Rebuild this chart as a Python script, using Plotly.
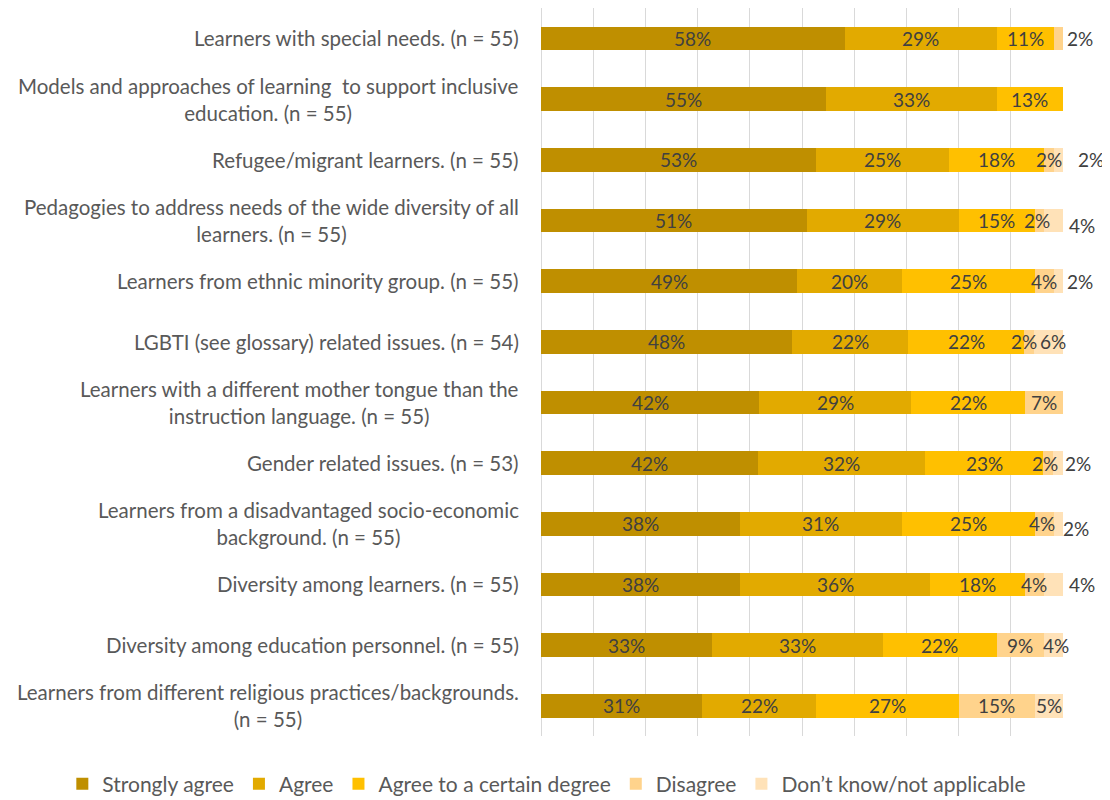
import plotly.graph_objects as go

categories = [
    "Learners with special needs. (n = 55)",
    "Models and approaches of learning  to support inclusive<br>education. (n = 55)",
    "Refugee/migrant learners. (n = 55)",
    "Pedagogies to address needs of the wide diversity of all<br>learners. (n = 55)",
    "Learners from ethnic minority group. (n = 55)",
    "LGBTI (see glossary) related issues. (n = 54)",
    "Learners with a different mother tongue than the<br>instruction language. (n = 55)",
    "Gender related issues. (n = 53)",
    "Learners from a disadvantaged socio-economic<br>background. (n = 55)",
    "Diversity among learners. (n = 55)",
    "Diversity among education personnel. (n = 55)",
    "Learners from different religious practices/backgrounds.<br>(n = 55)",
]

series_names = ["Strongly agree", "Agree", "Agree to a certain degree", "Disagree",
                "Don\u2019t know/not applicable"]

strongly_agree = [58.18, 54.55, 52.73, 50.91, 49.09, 48.15, 41.82, 41.51, 38.18, 38.18, 32.73, 30.91]
agree = [29.09, 32.73, 25.45, 29.09, 20.00, 22.22, 29.09, 32.08, 30.91, 36.36, 32.73, 21.82]
agree_certain = [10.91, 12.73, 18.18, 14.55, 25.45, 22.22, 21.82, 22.64, 25.45, 18.18, 21.82, 27.27]
disagree = [1.82, 0, 1.82, 1.82, 3.64, 1.85, 7.27, 1.89, 3.64, 3.64, 9.09, 14.55]
dont_know = [0, 0, 1.82, 3.64, 1.82, 5.56, 0, 1.89, 1.82, 3.64, 3.64, 5.45]

series_values = [strongly_agree, agree, agree_certain, disagree, dont_know]
colors = ["#BF8F00", "#E2AA00", "#FFC000", "#FFD38C", "#FFE2B8"]

# labels drawn to the right of the bar end: (row, series) -> (xshift px, yshift px)
outside_labels = {
    (0, 3): (2, 0),
    (2, 4): (13, 0),
    (3, 4): (4, -5),
    (4, 4): (2, 0),
    (7, 4): (0, 0),
    (8, 4): (-2, -5),
    (9, 4): (4, 0),
}
# small nudges of inside labels: (row, series) -> xshift px
inside_nudges = {
    (5, 3): -5,
    (5, 4): 5,
    (7, 3): -3,
    (8, 3): -2,
    (3, 3): -2,
    (9, 3): -1,
    (10, 4): 2,
}

FONT = "Lato, Liberation Sans, Arial"
label_font = dict(family=FONT, size=19, color="#404040")
axis_font = dict(family=FONT, size=20.5, color="#595959")
legend_font = dict(family=FONT, size=21, color="#595959")

fig = go.Figure()
for name, vals, col in zip(series_names, series_values, colors):
    fig.add_trace(go.Bar(
        y=categories, x=vals, name=name, orientation="h",
        marker=dict(color=col, line=dict(width=0)),
        hoverinfo="x+name",
    ))

annotations = []
for i, cat in enumerate(categories):
    cum = 0.0
    for s, vals in enumerate(series_values):
        v = vals[i]
        if v > 0:
            txt = f"{v:.0f}%"
            if (i, s) in outside_labels:
                dx, dy = outside_labels[(i, s)]
                annotations.append(dict(
                    x=1, y=cat, xref="paper", yref="y", text=txt, showarrow=False,
                    xanchor="left", yanchor="middle", xshift=dx, yshift=dy,
                    font=label_font,
                ))
            else:
                annotations.append(dict(
                    x=cum + v / 2, y=cat, xref="x", yref="y", text=txt, showarrow=False,
                    xanchor="center", yanchor="middle",
                    xshift=inside_nudges.get((i, s), 0),
                    font=label_font,
                ))
        cum += v

# category labels (centered multi-line, right-anchored)
for cat in categories:
    annotations.append(dict(
        x=0, y=cat, xref="paper", yref="y", text=cat, showarrow=False,
        xanchor="right", yanchor="middle", align="center", xshift=-20,
        font=axis_font,
    ))

fig.update_layout(
    width=1102, height=792,
    margin=dict(l=533, r=47, t=0, b=64, autoexpand=False),
    barmode="stack", bargap=0.61,
    plot_bgcolor="white", paper_bgcolor="white",
    annotations=annotations,
    legend=dict(
        orientation="h", xref="paper", yref="paper",
        x=-0.917, xanchor="left", y=-0.066, yanchor="middle",
        font=legend_font, traceorder="normal", itemwidth=30,
    ),
    xaxis=dict(
        range=[0, 100], dtick=10, showgrid=True, gridcolor="#D9D9D9", gridwidth=1,
        zeroline=True, zerolinecolor="#D9D9D9", zerolinewidth=1,
        showticklabels=False, ticks="", showline=False, fixedrange=True,
    ),
    yaxis=dict(
        categoryorder="array", categoryarray=categories,
        showticklabels=False, ticks="", showgrid=False, zeroline=False,
        range=[11.5, -0.5],
    ),
)

fig.write_html("out.html")
